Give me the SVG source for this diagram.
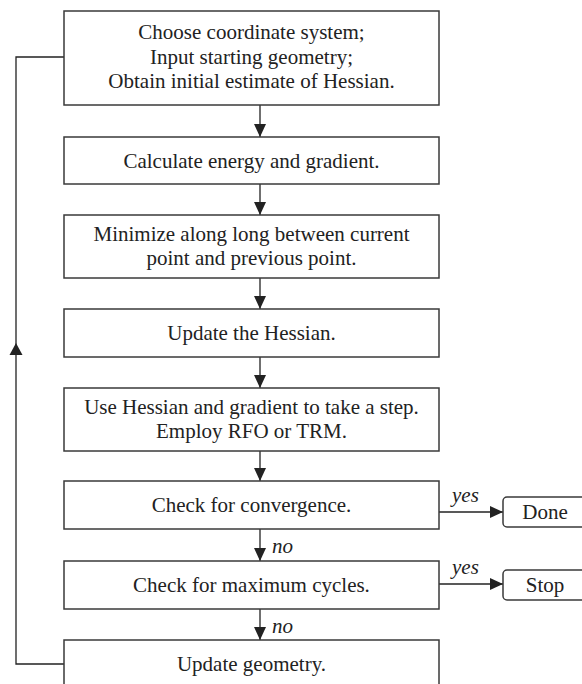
<svg xmlns="http://www.w3.org/2000/svg" width="582" height="684" viewBox="0 0 582 684">
<style>
.box{fill:#fff;stroke:#3a3a3a;stroke-width:1.5}
.t{font-family:"Liberation Serif","Times New Roman",serif;font-size:21px;fill:#222;text-anchor:middle}
.lbl{font-family:"Liberation Serif","Times New Roman",serif;font-size:21px;font-style:italic;fill:#222}
.ln{fill:none;stroke:#222;stroke-width:1.3}
</style>
<defs>
<marker id="arr" markerUnits="userSpaceOnUse" viewBox="0 0 13 12" refX="13" refY="6" markerWidth="13" markerHeight="12" orient="auto">
<path d="M0,0 L13,6 L0,12 z" fill="#222"/>
</marker>
</defs>
<rect width="582" height="684" fill="#fff"/>
<g id="connectors">
<line class="ln" x1="260" y1="105" x2="260" y2="137" marker-end="url(#arr)"/>
<line class="ln" x1="260" y1="184" x2="260" y2="215" marker-end="url(#arr)"/>
<line class="ln" x1="260" y1="278" x2="260" y2="309" marker-end="url(#arr)"/>
<line class="ln" x1="260" y1="357" x2="260" y2="388" marker-end="url(#arr)"/>
<line class="ln" x1="260" y1="451" x2="260" y2="481" marker-end="url(#arr)"/>
<line class="ln" x1="260" y1="529" x2="260" y2="561" marker-end="url(#arr)"/>
<line class="ln" x1="260" y1="609" x2="260" y2="640" marker-end="url(#arr)"/>
<line class="ln" x1="439" y1="512" x2="503" y2="512" marker-end="url(#arr)"/>
<line class="ln" x1="439" y1="584" x2="503" y2="584" marker-end="url(#arr)"/>
<polyline class="ln" points="64,664 16,664 16,57 64,57"/>
<polygon points="16,343 22.5,355 9.5,355" fill="#222"/>
<text class="lbl" x="272" y="553">no</text>
<text class="lbl" x="272" y="633">no</text>
<text class="lbl" x="452" y="502">yes</text>
<text class="lbl" x="452" y="574">yes</text>
</g>
<g id="n1"><rect class="box" x="64" y="11" width="375" height="94"/>
<text class="t" x="251.5" y="39">Choose coordinate system;</text>
<text class="t" x="251.5" y="63.5">Input starting geometry;</text>
<text class="t" x="251.5" y="88">Obtain initial estimate of Hessian.</text></g>
<g id="n2"><rect class="box" x="64" y="137" width="375" height="47"/>
<text class="t" x="251.5" y="168">Calculate energy and gradient.</text></g>
<g id="n3"><rect class="box" x="64" y="215" width="375" height="63"/>
<text class="t" x="251.5" y="241">Minimize along long between current</text>
<text class="t" x="251.5" y="265">point and previous point.</text></g>
<g id="n4"><rect class="box" x="64" y="309" width="375" height="48"/>
<text class="t" x="251.5" y="340">Update the Hessian.</text></g>
<g id="n5"><rect class="box" x="64" y="388" width="375" height="63"/>
<text class="t" x="251.5" y="414">Use Hessian and gradient to take a step.</text>
<text class="t" x="251.5" y="438">Employ RFO or TRM.</text></g>
<g id="n6"><rect class="box" x="64" y="481" width="375" height="48"/>
<text class="t" x="251.5" y="512">Check for convergence.</text></g>
<g id="n7"><rect class="box" x="64" y="561" width="375" height="48"/>
<text class="t" x="251.5" y="592">Check for maximum cycles.</text></g>
<g id="n8"><rect class="box" x="64" y="640" width="375" height="50"/>
<text class="t" x="251.5" y="671">Update geometry.</text></g>
<g id="done"><rect class="box" x="503" y="497" width="84" height="30" rx="4"/>
<text class="t" x="545" y="519">Done</text></g>
<g id="stop"><rect class="box" x="503" y="570" width="84" height="30" rx="4"/>
<text class="t" x="545" y="592">Stop</text></g>
</svg>
